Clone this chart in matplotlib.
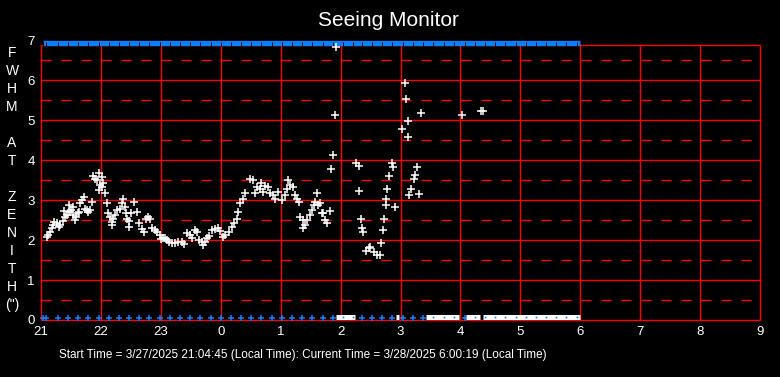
import numpy as np
import matplotlib
matplotlib.use("Agg")
import matplotlib.pyplot as plt

plt.rcParams['font.family'] = ['Liberation Sans', 'DejaVu Sans']
plt.rcParams['lines.scale_dashes'] = False

#%% data (clock hours, local time)
seeing_time = [21.10, 21.12, 21.15, 21.18, 21.20, 21.22, 21.26, 21.32, 21.30, 21.37,
               21.38, 21.40, 21.43, 21.46, 21.47, 21.50, 21.53, 21.54, 21.57, 21.58,
               21.61, 21.64, 21.65, 21.68, 21.71, 21.73, 21.76, 21.79, 21.82, 21.85,
               21.87, 21.90, 21.93, 21.96, 22.01, 22.03, 21.98, 22.01, 21.97, 22.07,
               22.10, 22.12, 22.15, 22.18, 22.18, 22.21, 22.24, 22.27, 22.32, 22.35,
               22.37, 22.40, 22.42, 22.44, 22.47, 22.47, 22.51, 22.55, 22.60, 22.64,
               22.68, 22.72, 22.75, 22.79, 22.82, 22.85, 22.90, 22.93, 22.99, 23.01,
               23.04, 23.07, 23.10, 23.13, 23.18, 23.24, 23.29, 23.35, 23.38, 23.43,
               23.48, 23.52, 23.57, 23.60, 23.64, 23.68, 23.71, 23.74, 23.77, 23.80,
               23.85, 23.90, 23.96, 23.99, 0.03, 0.07, 0.13, 0.18, 0.22, 0.27,
               0.29, 0.32, 0.37, 0.41, 0.49, 0.53, 0.57, 0.60, 0.66, 0.68,
               0.71, 0.74, 0.79, 0.82, 0.87, 0.91, 0.95, 1.02, 1.07, 1.10,
               1.13, 1.16, 1.21, 1.24, 1.27, 1.30, 1.32, 1.38, 1.38, 1.41,
               1.44, 1.49, 1.52, 1.55, 1.57, 1.60, 1.63, 1.66, 1.69, 1.71,
               1.74, 1.78, 1.82, 1.84, 1.88, 1.90, 1.92, 2.26, 2.30, 2.31,
               2.34, 2.35, 2.38, 2.43, 2.47, 2.49, 2.55, 2.60, 2.65, 2.68,
               2.70, 2.73, 2.75, 2.76, 2.78, 2.81, 2.85, 2.87, 2.90, 3.03,
               3.08, 3.10, 3.12, 3.13, 3.15, 3.18, 3.23, 3.25, 3.27, 3.31,
               3.35, 4.03, 4.35, 4.37]
seeing_fwhm = [2.07, 2.12, 2.21, 2.29, 2.37, 2.46, 2.43, 2.37, 2.33, 2.48,
               2.73, 2.58, 2.62, 2.71, 2.89, 2.75, 2.83, 2.62, 2.50, 2.58,
               2.67, 2.71, 2.92, 3.00, 3.08, 2.79, 2.75, 2.71, 2.75, 2.96,
               3.60, 3.54, 3.50, 3.68, 3.57, 3.43, 3.37, 3.32, 3.25, 3.18,
               2.93, 2.68, 2.57, 2.46, 2.37, 2.54, 2.62, 2.75, 2.79, 2.92,
               3.02, 2.83, 2.67, 2.52, 2.48, 2.32, 2.67, 2.96, 2.71, 2.43,
               2.27, 2.21, 2.54, 2.57, 2.52, 2.29, 2.25, 2.21, 2.12, 2.02,
               2.04, 2.04, 2.00, 1.96, 1.92, 1.92, 1.96, 1.96, 1.90, 2.18,
               2.12, 2.04, 2.25, 2.21, 2.00, 1.96, 1.87, 1.96, 2.04, 2.10,
               2.25, 2.27, 2.29, 2.23, 2.08, 2.12, 2.21, 2.33, 2.42, 2.54,
               2.71, 2.92, 3.04, 3.17, 3.54, 3.50, 3.17, 3.33, 3.29, 3.42,
               3.21, 3.35, 3.33, 3.17, 3.12, 3.04, 3.21, 3.00, 3.12, 3.29,
               3.50, 3.37, 3.33, 3.12, 3.04, 2.96, 2.58, 2.50, 2.29, 2.37,
               2.50, 2.62, 2.75, 2.87, 2.96, 3.19, 2.87, 2.92, 2.68, 2.67,
               2.50, 2.42, 2.73, 3.77, 4.14, 5.14, 6.83, 3.92, 3.86, 3.22,
               2.52, 2.29, 2.19, 1.72, 1.79, 1.83, 1.71, 1.62, 1.62, 1.92,
               2.24, 2.54, 2.89, 3.04, 3.29, 3.60, 3.92, 3.83, 2.84, 4.77,
               5.94, 5.52, 4.99, 4.59, 3.12, 3.29, 3.52, 3.64, 3.84, 3.15,
               5.17, 5.14, 5.24, 5.24]

# status samples along the bottom (blue) and runs flagged white
status_time = [21.03, 21.08, 21.28, 21.45, 21.62, 21.79, 21.96, 22.13, 22.30, 22.47,
               22.64, 22.81, 22.98, 23.15, 23.32, 23.49, 23.66, 23.83, 0.00, 0.17,
               0.34, 0.51, 0.68, 0.85, 1.02, 1.19, 1.36, 1.53, 1.70, 1.87,
               2.04, 2.21, 2.36, 2.53, 2.69, 2.86, 3.04, 3.21, 3.38, 3.55,
               3.72, 3.89, 4.08, 4.24, 4.41, 4.58, 4.75, 4.92, 5.09, 5.26,
               5.43, 5.60, 5.77, 5.94]
white_runs = [(1.93, 2.24), (2.92, 2.97), (3.43, 3.97), (4.10, 4.33), (4.38, 6.00)]
top_run = (21.03, 6.00)

hour_ticks = [21, 22, 23, 0, 1, 2, 3, 4, 5, 6, 7, 8, 9]
ylabel_chars = ['F', 'W', 'H', 'M', '', 'A', 'T', '', 'Z', 'E', 'N', 'I', 'T', 'H', '(")']
footer = "Start Time = 3/27/2025 21:04:45 (Local Time): Current Time = 3/28/2025 6:00:19 (Local Time)"


def to_axis(h):
    h = np.asarray(h, dtype=float)
    return np.where(h < 12, h + 24, h)


PX = 0.72  # points per pixel at dpi 100
BLUE = '#0a80ff'

fig = plt.figure(figsize=(7.8, 3.77), dpi=100, facecolor='black')
ax = fig.add_axes([41/780, 57/377, 719/780, 279.7/377])
ax.set_facecolor('black')
ax.set_xlim(21, 33)
ax.set_ylim(0, 7)
for s in ax.spines.values():
    s.set_visible(False)

top_y = 6.87
xt = to_axis(hour_ticks)
# grid
for x in xt:
    ax.plot([x, x], [0, top_y], color='red', lw=1.0, solid_capstyle='butt',
            clip_on=False, zorder=1)
ax.hlines(list(range(0, 7)) + [top_y], 21, 33, colors='red', lw=1.0,
          clip_on=False, zorder=1)
ax.hlines(np.arange(0.5, 7, 1.0), 21, 33, colors='red', lw=1.0,
          linestyles=[(0, (10*PX, 10*PX))], zorder=1)

# top band
t0, t1 = to_axis(top_run)
ax.hlines(6.935, t0, t1, colors=BLUE, lw=5.3*PX, clip_on=False, zorder=3)
ax.plot(to_axis(status_time), [6.90]*len(status_time), '|', color='black',
        ms=2.5, mew=PX, clip_on=False, zorder=4)

# bottom status
st = to_axis(status_time)
inside = np.zeros(len(st), dtype=bool)
for a, b in white_runs:
    a, b = to_axis([a, b])
    inside |= (st >= a - 0.02) & (st <= b + 0.02)
ax.plot(st[~inside], [0.06]*int((~inside).sum()), '+', color=BLUE, ms=4.5,
        mew=1.1, ls='none', clip_on=False, zorder=3)
for a, b in white_runs:
    a, b = to_axis([a, b])
    ax.hlines(0.07, a, b, colors='white', lw=5*PX, clip_on=False, zorder=3)
ax.plot(st[inside], [0.07]*int(inside.sum()), 's', color=BLUE, ms=1.2,
        mew=0, ls='none', clip_on=False, zorder=4)

# seeing
ax.plot(to_axis(seeing_time), seeing_fwhm, '+', color='white', ms=5.5, mew=1.1,
        ls='none', clip_on=False, zorder=5)

ax.set_xticks(xt)
ax.set_xticklabels([str(h) for h in hour_ticks])
ax.set_yticks(range(0, 8))
ax.tick_params(axis='both', length=0, colors='white', labelsize=9.5)
ax.tick_params(axis='x', pad=4.0)
ax.tick_params(axis='y', pad=4.5)

fig.text(388/780, 1 - 20/377, 'Seeing Monitor', ha='center', va='center',
         fontsize=15, color='white')
fig.text(303/780, 1 - 355/377, footer, ha='center', va='center',
         fontsize=8.5, color='white')
for i, ch in enumerate(ylabel_chars):
    fig.text(12/780, 1 - (53 + 18*i)/377, ch, ha='center', va='center',
             fontsize=10, color='white')

fig.savefig('out.png', dpi=100, facecolor='black')
